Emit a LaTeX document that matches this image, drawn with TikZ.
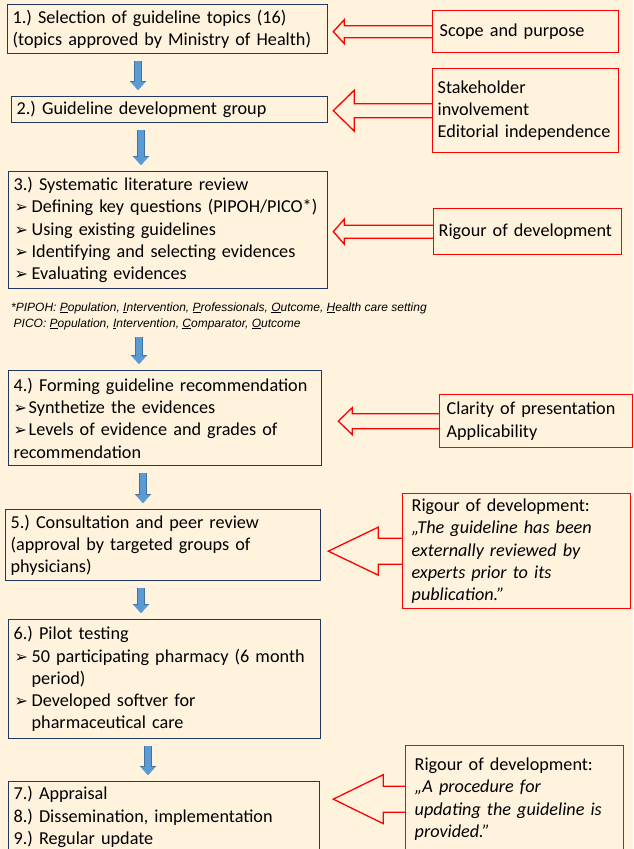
\documentclass[tikz,border=0pt]{standalone}
\usepackage{fontspec}
\setmainfont{Carlito}
\newfontfamily\notefont{Liberation Sans}
\newfontfamily\dingfont{DejaVu Sans}
\usetikzlibrary{arrows.meta,calc}
\frenchspacing

\definecolor{cream}{RGB}{255,243,222}
\definecolor{navy}{RGB}{32,56,100}
\definecolor{critred}{RGB}{255,0,0}
\definecolor{flowblue}{RGB}{91,155,213}
\definecolor{flowedge}{RGB}{65,113,156}

% bullets of the step boxes
\newcommand{\bul}{\makebox[18pt][l]{\hspace{1pt}\fontsize{16}{16}\dingfont ➢}}
\newcommand{\tbul}{\makebox[15pt][l]{\fontsize{16}{16}\dingfont ➢}}
\newcommand{\hang}{\hspace*{18pt}}

% hollow arrow from a criterion box to a step box
% #1 step, #2 criterion, #3 gap, #4 head length, #5 head half height, #6 shaft half height
\newcommand{\critarrow}[6]{%
  \draw[critline] let \p1=(#2.west), \p2=(#1.east) in
    (\x1,\y1+#6) -- (\x2+#3+#4,\y1+#6) -- (\x2+#3+#4,\y1+#5) -- (\x2+#3,\y1)
    -- (\x2+#3+#4,\y1-#5) -- (\x2+#3+#4,\y1-#6) -- (\x1,\y1-#6);}

\tikzset{
  stepbox/.style={draw=navy, line width=1.3pt, anchor=north west, align=left,
    inner xsep=5pt, inner ysep=0pt, font=\fontsize{18.2}{22.3}\selectfont},
  critbox/.style={draw=critred, line width=1.3pt, anchor=north west, align=left,
    inner xsep=7pt, inner ysep=0pt, font=\fontsize{18.2}{22.3}\selectfont},
  critline/.style={draw=critred, line width=1.3pt, line join=miter},
  flow/.style={draw=flowblue, line width=6pt, -{Triangle[length=8pt,width=14pt]},
    shorten <=7pt, shorten >=6pt,
    preaction={draw=flowedge, line width=7.4pt, -{Triangle[length=9pt,width=16pt]}}}
}

\begin{document}
\begin{tikzpicture}[x=1pt,y=-1pt]
\useasboundingbox (0,0) rectangle (633,849);
\clip (0,0) rectangle (633,849);
\fill[cream] (0,0) rectangle (633,849);

% process steps
\node[stepbox, text width=310pt, minimum height=49pt] (s1) at (7,4)
  {1.) Selection of guideline topics (16)\\(topics approved by Ministry of Health)};
\node[stepbox, text width=306pt, minimum height=26pt] (s2) at (11,96)
  {2.) Guideline development group};
\node[stepbox, text width=309pt, minimum height=117pt] (s3) at (8,171)
  {3.) Systematic literature review\\\bul Defining key questions (PIPOH/PICO*)\\
   \bul Using existing guidelines\\\bul Identifying and selecting evidences\\
   \bul Evaluating evidences};
\node[anchor=west, align=left, inner sep=0pt, font=\fontsize{12}{16}\notefont\itshape] (note) at (11,316)
  {*PIPOH: \underline{P}opulation, \underline{I}ntervention, \underline{P}rofessionals, \underline{O}utcome, \underline{H}ealth care setting\\
   \hspace*{2.5pt}PICO: \underline{P}opulation, \underline{I}ntervention, \underline{C}omparator, \underline{O}utcome};
\node[stepbox, text width=303pt, minimum height=95pt] (s4) at (8,370)
  {4.) Forming guideline recommendation\\\tbul Synthetize the evidences\\
   \tbul Levels of evidence and grades of\\recommendation};
\node[stepbox, text width=305pt, minimum height=71pt] (s5) at (5,509)
  {5.) Consultation and peer review\\(approval by targeted groups of\\physicians)};
\node[stepbox, text width=302pt, minimum height=119pt] (s6) at (8,619)
  {6.) Pilot testing\\\bul 50 participating pharmacy (6 month\\\hang period)\\
   \bul Developed softver for\\\hang pharmaceutical care};
\node[stepbox, text width=301pt, minimum height=71pt] (s7) at (8,781)
  {7.) Appraisal\\8.) Dissemination, implementation\\9.) Regular update};

% criteria
\node[critbox, text width=172pt, minimum height=42pt] (r1) at (432,10) {Scope and purpose};
\node[critbox, inner xsep=5pt, text width=176pt, minimum height=84pt] (r2) at (432,68)
  {Stakeholder\\involvement\\Editorial independence};
\node[critbox, inner xsep=5pt, text width=178pt, minimum height=46pt] (r3) at (433,208)
  {Rigour of development};
\node[critbox, text width=179pt, minimum height=53pt] (r4) at (439,394)
  {Clarity of presentation\\Applicability};
\node[critbox, inner xsep=9pt, text width=210pt, minimum height=115pt] (r5) at (402,493)
  {Rigour of development:\\\itshape „The guideline has been\\externally reviewed by\\
   experts prior to its\\publication.”};
\node[critbox, inner xsep=9pt, text width=200pt, minimum height=107pt] (r6) at (405,745)
  {Rigour of development:\\\itshape „A procedure for\\updating the guideline is\\provided.”};

% flow between steps
\draw[flow] (138,0 |- s1.south) -- (138,0 |- s2.north);
\draw[flow] (141,0 |- s2.south) -- (141,0 |- s3.north);
\draw[flow] (139,0 |- note.south) -- (139,0 |- s4.north);
\draw[flow] (143,0 |- s4.south) -- (143,0 |- s5.north);
\draw[flow] (141,0 |- s5.south) -- (141,0 |- s6.north);
\draw[flow] (148,0 |- s6.south) -- (148,0 |- s7.north);

% criteria arrows
\critarrow{s1}{r1}{5}{11}{12}{6}
\critarrow{s2}{r2}{5}{21}{20.5}{7}
\critarrow{s3}{r3}{5}{11}{12.5}{6.5}
\critarrow{s4}{r4}{16}{14}{13.5}{7.5}
\critarrow{s5}{r5}{7}{50}{24}{13}
\critarrow{s7}{r6}{13}{50}{24.5}{13}
\end{tikzpicture}
\end{document}
